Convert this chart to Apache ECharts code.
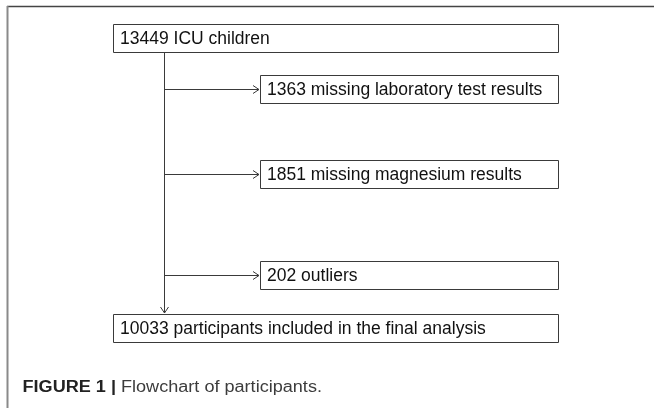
<!DOCTYPE html>
<html>
<head>
<meta charset="utf-8">
<style>
  html, body { margin: 0; padding: 0; background: #fff; }
  #chart { width: 654px; height: 408px; }
</style>
<script src="https://cdn.jsdelivr.net/npm/echarts@6/dist/echarts.min.js"></script>
</head>
<body>
<div id="chart"></div>
<script>
// ---- data ----
var counts = [13449, 1363, 1851, 202, 10033];
var descriptions = [
  'ICU children',
  'missing laboratory test results',
  'missing magnesium results',
  'outliers',
  'participants included in the final analysis'
];
var roles = ['main', 'exclude', 'exclude', 'exclude', 'main'];
var captionLabel = 'FIGURE 1';
var captionText = 'Flowchart of participants.';

// ---- layout (styles / positions, not data) ----
var MAIN_X = 113, MAIN_W = 445;
var SIDE_X = 260, SIDE_W = 298;
var BOX_H = 28;
var boxTops = [24, 75, 160, 261, 314];
var SPINE_X = 164;
var LINE = '#3a3a3a';
var FONT = '17.5px "Liberation Sans", Arial, sans-serif';

var graphics = [];

// frame lines
graphics.push({ type: 'line', shape: { x1: 7, y1: 6.5, x2: 654, y2: 6.5 }, style: { stroke: '#444', lineWidth: 1.5 } });
graphics.push({ type: 'line', shape: { x1: 7.5, y1: 6, x2: 7.5, y2: 408 }, style: { stroke: '#8a8a8a', lineWidth: 2 } });

function chevronRight(x, y) {
  return { type: 'polyline', shape: { points: [[x - 6, y - 4], [x, y], [x - 6, y + 4]] }, style: { stroke: LINE, lineWidth: 1, fill: null } };
}
function chevronDown(x, y) {
  return { type: 'polyline', shape: { points: [[x - 4, y - 6], [x, y], [x + 4, y - 6]] }, style: { stroke: LINE, lineWidth: 1, fill: null } };
}

counts.forEach(function (c, i) {
  var isMain = roles[i] === 'main';
  var x = isMain ? MAIN_X : SIDE_X;
  var w = isMain ? MAIN_W : SIDE_W;
  var y = boxTops[i];
  graphics.push({
    type: 'rect',
    shape: { x: x + 0.5, y: y + 0.5, width: w, height: BOX_H },
    style: { fill: '#fff', stroke: LINE, lineWidth: 1 }
  });
  graphics.push({
    type: 'text',
    x: x + 7, y: y + BOX_H / 2 + 1,
    style: { text: c + ' ' + descriptions[i], font: FONT, fill: '#111', verticalAlign: 'middle', align: 'left' }
  });
  if (!isMain) {
    var ay = y + BOX_H / 2 + 0.5;
    graphics.push({ type: 'line', shape: { x1: SPINE_X, y1: ay, x2: SIDE_X - 1, y2: ay }, style: { stroke: LINE, lineWidth: 1 } });
    graphics.push(chevronRight(SIDE_X - 1, ay));
  }
});

// spine
var spineTop = boxTops[0] + BOX_H + 0.5;
var spineBottom = boxTops[4] - 1;
graphics.push({ type: 'line', shape: { x1: SPINE_X + 0.5, y1: spineTop, x2: SPINE_X + 0.5, y2: spineBottom }, style: { stroke: LINE, lineWidth: 1 } });
graphics.push(chevronDown(SPINE_X + 0.5, spineBottom));

// caption
graphics.push({
  type: 'text',
  x: 22.5, y: 388,
  scaleX: 1.13, originX: 0, originY: 0,
  style: {
    text: '{b|' + captionLabel + '} {b||} {r|' + captionText + '}',
    font: '16px "Liberation Sans", Arial, sans-serif',
    verticalAlign: 'middle',
    rich: {
      b: { font: 'bold 16px "Liberation Sans", Arial, sans-serif', fill: '#222' },
      r: { font: '16px "Liberation Sans", Arial, sans-serif', fill: '#3c3c3c' }
    }
  }
});

var chart = echarts.init(document.getElementById('chart'), null, { renderer: 'canvas' });
chart.setOption({ animation: false, graphic: graphics });
</script>
</body>
</html>
